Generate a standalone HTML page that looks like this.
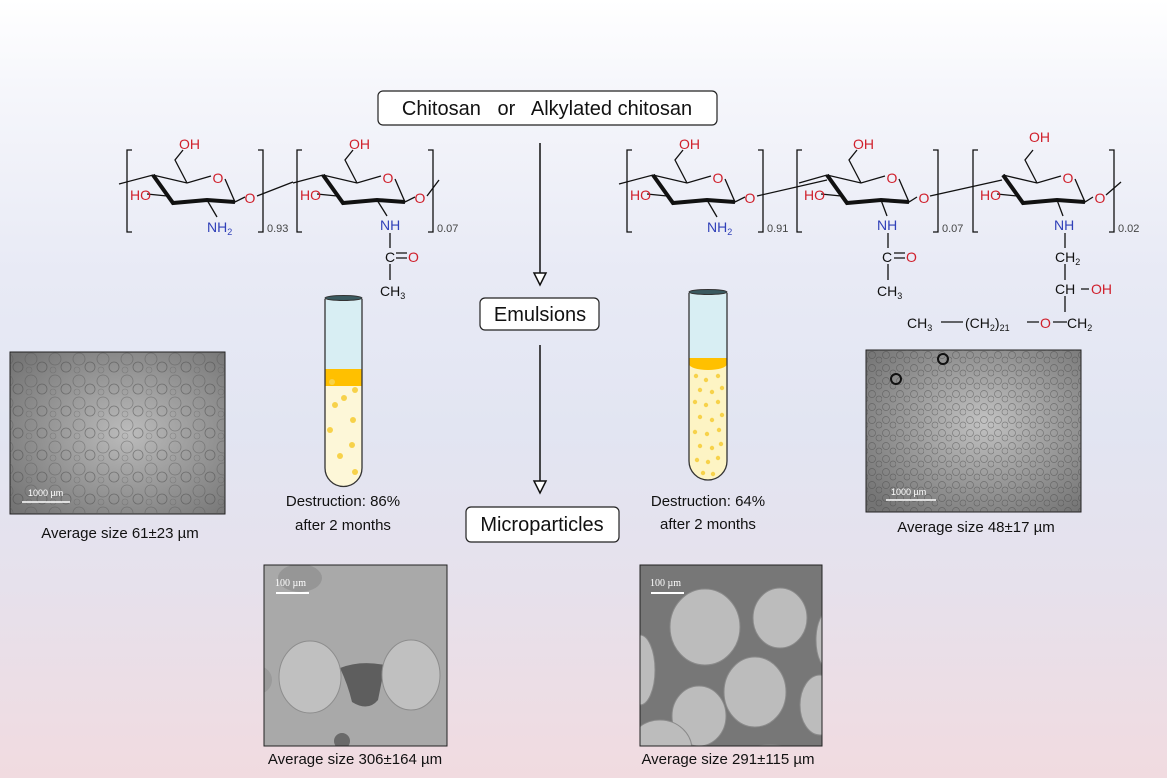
<!DOCTYPE html>
<html><head><meta charset="utf-8"><style>
html,body{margin:0;padding:0}
body{width:1167px;height:778px;overflow:hidden;background:linear-gradient(#ffffff 0%,#f5f6fb 12%,#e8eaf5 35%,#e2e5f2 55%,#e6e1ec 75%,#f1dbe0 100%);font-family:"Liberation Sans",sans-serif}
svg{position:absolute;left:0;top:0}
</style></head><body>
<svg width="1167" height="778" viewBox="0 0 1167 778" font-family="Liberation Sans, sans-serif">
<defs>
<pattern id="bub" width="24" height="22" patternUnits="userSpaceOnUse">
<circle cx="7" cy="7" r="6" fill="none" stroke="#555" stroke-width="0.8" opacity="0.5"/>
<circle cx="18" cy="15" r="5" fill="none" stroke="#444" stroke-width="0.8" opacity="0.5"/>
<circle cx="5" cy="18" r="3" fill="none" stroke="#555" stroke-width="0.6" opacity="0.4"/>
</pattern>
<pattern id="bub2" width="14" height="13" patternUnits="userSpaceOnUse">
<circle cx="4" cy="4" r="3.5" fill="none" stroke="#444" stroke-width="0.7" opacity="0.5"/>
<circle cx="11" cy="9" r="3" fill="none" stroke="#444" stroke-width="0.7" opacity="0.5"/>
</pattern>
<radialGradient id="mg" cx="0.55" cy="0.5" r="0.7"><stop offset="0" stop-color="#bcbcbc"/><stop offset="1" stop-color="#747474"/></radialGradient>
<radialGradient id="mg2" cx="0.55" cy="0.45" r="0.7"><stop offset="0" stop-color="#c2c2c2"/><stop offset="1" stop-color="#747474"/></radialGradient>
<clipPath id="sem2"><rect x="640" y="565" width="182" height="181"/></clipPath>
<clipPath id="sem1"><rect x="264" y="565" width="183" height="181"/></clipPath>
</defs>

<!-- boxes & arrows -->
<rect x="378" y="91" width="339" height="34" rx="5" fill="#fff" stroke="#222" stroke-width="1.2"/>
<text x="547" y="115" font-size="20" text-anchor="middle" fill="#111" xml:space="preserve">Chitosan   or   Alkylated chitosan</text>
<line x1="540" y1="143" x2="540" y2="285" stroke="#111" stroke-width="1.5"/>
<path d="M534,273 L546,273 L540,285 Z" fill="#fff" stroke="#111" stroke-width="1.5"/>
<rect x="480" y="298" width="119" height="32" rx="5" fill="#fff" stroke="#222" stroke-width="1.2"/>
<text x="540" y="321" font-size="20" text-anchor="middle" fill="#111">Emulsions</text>
<line x1="540" y1="345" x2="540" y2="493" stroke="#111" stroke-width="1.5"/>
<path d="M534,481 L546,481 L540,493 Z" fill="#fff" stroke="#111" stroke-width="1.5"/>
<rect x="466" y="507" width="153" height="35" rx="5" fill="#fff" stroke="#222" stroke-width="1.2"/>
<text x="542" y="531" font-size="20" text-anchor="middle" fill="#111">Microparticles</text>

<g font-size="14" fill="none" stroke="#111" stroke-width="1.3">
<g transform="translate(127,0)">
<path d="M5,150 H0 V232 H5 M131,150 H136 V232 H131"/>
<path d="M-8,184 L26,175 L60,183 L84,176 M98,179 L108,202 L118,197 M60,183 L48,160 L56,150"/>
<path d="M26,175 L46,203 L80,200 L108,202" stroke-width="4"/>
<path d="M80,200 L90,217 M20,194 L40,196"/>
<g stroke="none"><text x="91" y="183" text-anchor="middle" fill="#d0202c">O</text><text x="3" y="200" fill="#d0202c">HO</text><text x="52" y="149" fill="#d0202c">OH</text><text x="80" y="232" fill="#3040b8">NH<tspan font-size="9" dy="3">2</tspan></text><text x="123" y="203" text-anchor="middle" fill="#d0202c">O</text><text x="140" y="232" font-size="11" fill="#444">0.93</text></g>
<path d="M130,196 L166,182"/>
</g>
<g transform="translate(297,0)">
<path d="M5,150 H0 V232 H5 M131,150 H136 V232 H131"/>
<path d="M-4,183 L26,175 L60,183 L84,176 M98,179 L108,202 L118,197 M60,183 L48,160 L56,150"/>
<path d="M26,175 L46,203 L80,200 L108,202" stroke-width="4"/>
<path d="M80,200 L90,216 M20,194 L40,196 M93,233 V248 M93,264 V280 M99,253 H110 M99,258 H110"/>
<g stroke="none"><text x="91" y="183" text-anchor="middle" fill="#d0202c">O</text><text x="3" y="200" fill="#d0202c">HO</text><text x="52" y="149" fill="#d0202c">OH</text><text x="83" y="230" fill="#3040b8">NH</text><text x="88" y="262" fill="#111">C</text><text x="111" y="262" fill="#d0202c">O</text><text x="83" y="296" fill="#111">CH<tspan font-size="9" dy="3">3</tspan></text><text x="123" y="203" text-anchor="middle" fill="#d0202c">O</text><text x="140" y="232" font-size="11" fill="#444">0.07</text></g>
<path d="M130,196 L142,180"/>
</g>
<g transform="translate(627,0)">
<path d="M5,150 H0 V232 H5 M131,150 H136 V232 H131"/>
<path d="M-8,184 L26,175 L60,183 L84,176 M98,179 L108,202 L118,197 M60,183 L48,160 L56,150"/>
<path d="M26,175 L46,203 L80,200 L108,202" stroke-width="4"/>
<path d="M80,200 L90,217 M20,194 L40,196"/>
<g stroke="none"><text x="91" y="183" text-anchor="middle" fill="#d0202c">O</text><text x="3" y="200" fill="#d0202c">HO</text><text x="52" y="149" fill="#d0202c">OH</text><text x="80" y="232" fill="#3040b8">NH<tspan font-size="9" dy="3">2</tspan></text><text x="123" y="203" text-anchor="middle" fill="#d0202c">O</text><text x="140" y="232" font-size="11" fill="#444">0.91</text></g>
<path d="M130,196 L200,180"/>
</g>
<g transform="translate(797,0)">
<path d="M5,150 H0 V232 H5 M136,150 H141 V232 H136"/>
<path d="M2,183 L30,175 L64,183 L88,176 M102,179 L112,202 L120,197"/>
<path d="M64,183 L52,160 L60,150"/>
<path d="M30,175 L50,203 L84,200 L112,202" stroke-width="4"/>
<path d="M84,200 L90,216 M24,194 L44,196 M91,233 V248 M91,264 V280 M97,253 H108 M97,258 H108"/>
<g stroke="none"><text x="95" y="183" text-anchor="middle" fill="#d0202c">O</text><text x="7" y="200" fill="#d0202c">HO</text><text x="56" y="149" fill="#d0202c">OH</text><text x="80" y="230" fill="#3040b8">NH</text><text x="85" y="262" fill="#111">C</text><text x="109" y="262" fill="#d0202c">O</text><text x="80" y="296" fill="#111">CH<tspan font-size="9" dy="3">3</tspan></text><text x="127" y="203" text-anchor="middle" fill="#d0202c">O</text><text x="145" y="232" font-size="11" fill="#444">0.07</text></g>
<path d="M133,196 L205,180"/>
</g>
<g transform="translate(973,0)">
<path d="M5,150 H0 V232 H5 M136,150 H141 V232 H136"/>
<path d="M30,175 L64,183 L88,176 M102,179 L112,202 L120,197 M64,183 L52,160 L60,150"/>
<path d="M30,175 L50,203 L84,200 L112,202" stroke-width="4"/>
<path d="M84,200 L90,216 M24,194 L44,196 M92,233 V248 M92,264 V280 M92,296 V312 M108,289 H116 M54,322 H66 M80,322 H94 M-32,322 H-10"/>
<g stroke="none"><text x="95" y="183" text-anchor="middle" fill="#d0202c">O</text><text x="7" y="200" fill="#d0202c">HO</text><text x="56" y="142" fill="#d0202c">OH</text><text x="81" y="230" fill="#3040b8">NH</text><text x="82" y="262" fill="#111">CH<tspan font-size="9" dy="3">2</tspan></text><text x="82" y="294" fill="#111">CH</text><text x="118" y="294" fill="#d0202c">OH</text><text x="94" y="328" fill="#111">CH<tspan font-size="9" dy="3">2</tspan></text><text x="67" y="328" fill="#d0202c">O</text><text x="-66" y="328" fill="#111">CH<tspan font-size="9" dy="3">3</tspan></text><text x="-8" y="328" fill="#111">(CH<tspan font-size="9" dy="3">2</tspan><tspan dy="-3">)</tspan><tspan font-size="9" dy="3">21</tspan></text><text x="127" y="203" text-anchor="middle" fill="#d0202c">O</text><text x="145" y="232" font-size="11" fill="#444">0.02</text></g>
<path d="M133,195 L148,182"/>
</g>
</g>

<!-- left micrograph -->
<rect x="10" y="352" width="215" height="162" fill="url(#mg)" stroke="#222"/>
<rect x="10" y="352" width="215" height="162" fill="url(#bub)"/>
<text x="28" y="496" font-size="9" fill="#fff">1000 µm</text>
<line x1="22" y1="502" x2="70" y2="502" stroke="#fff" stroke-width="1.5"/>
<text x="120" y="538" font-size="15" text-anchor="middle" fill="#111">Average size 61±23 µm</text>

<!-- right micrograph -->
<rect x="866" y="350" width="215" height="162" fill="url(#mg2)" stroke="#222"/>
<rect x="866" y="350" width="215" height="162" fill="url(#bub2)"/>
<circle cx="896" cy="379" r="5" fill="none" stroke="#111" stroke-width="2"/>
<circle cx="943" cy="359" r="5" fill="none" stroke="#111" stroke-width="2"/>
<text x="891" y="495" font-size="9" fill="#fff">1000 µm</text>
<line x1="886" y1="500" x2="936" y2="500" stroke="#fff" stroke-width="1.5"/>
<text x="976" y="532" font-size="15" text-anchor="middle" fill="#111">Average size 48±17 µm</text>

<!-- left tube -->
<path d="M325,369 V468 A18.5,18.5 0 0 0 362,468 V369 Z" fill="#fdf7d8"/>
<rect x="325" y="299" width="37" height="70" fill="#d8eef3"/>
<rect x="325" y="369" width="37" height="17" fill="#ffc000"/>
<g fill="#f7d24a"><circle cx="332" cy="382" r="3"/><circle cx="344" cy="398" r="3"/><circle cx="355" cy="390" r="3"/><circle cx="335" cy="405" r="3"/><circle cx="353" cy="420" r="3"/><circle cx="330" cy="430" r="3"/><circle cx="352" cy="445" r="3"/><circle cx="340" cy="456" r="3"/><circle cx="355" cy="472" r="3"/></g>
<path d="M325,299 V468 A18.5,18.5 0 0 0 362,468 V299" fill="none" stroke="#333" stroke-width="1.3"/>
<ellipse cx="343.5" cy="298" rx="18.5" ry="2.5" fill="#3a5a60" stroke="#333"/>
<text x="343" y="506" font-size="15" text-anchor="middle" fill="#111">Destruction: 86%</text>
<text x="343" y="530" font-size="15" text-anchor="middle" fill="#111">after 2 months</text>

<!-- right tube -->
<path d="M689,364 V461 A19,19 0 0 0 727,461 V364 Z" fill="#fdf4c4"/>
<rect x="689" y="293" width="38" height="71" fill="#d8eef3"/>
<ellipse cx="708" cy="364" rx="19" ry="6" fill="#ffc000"/>
<rect x="689" y="358" width="38" height="7" fill="#ffc000"/>
<g fill="#f7d24a">
<circle cx="696" cy="376" r="2.2"/><circle cx="706" cy="380" r="2.2"/><circle cx="718" cy="376" r="2.2"/><circle cx="700" cy="390" r="2.2"/><circle cx="712" cy="392" r="2.2"/><circle cx="722" cy="388" r="2.2"/><circle cx="695" cy="402" r="2.2"/><circle cx="706" cy="405" r="2.2"/><circle cx="718" cy="402" r="2.2"/><circle cx="700" cy="417" r="2.2"/><circle cx="712" cy="420" r="2.2"/><circle cx="722" cy="415" r="2.2"/><circle cx="695" cy="432" r="2.2"/><circle cx="707" cy="434" r="2.2"/><circle cx="719" cy="430" r="2.2"/><circle cx="700" cy="446" r="2.2"/><circle cx="712" cy="448" r="2.2"/><circle cx="721" cy="444" r="2.2"/><circle cx="697" cy="460" r="2.2"/><circle cx="708" cy="462" r="2.2"/><circle cx="718" cy="458" r="2.2"/><circle cx="703" cy="473" r="2.2"/><circle cx="713" cy="474" r="2.2"/>
</g>
<path d="M689,293 V461 A19,19 0 0 0 727,461 V293" fill="none" stroke="#333" stroke-width="1.3"/>
<ellipse cx="708" cy="292" rx="19" ry="2.5" fill="#3a5a60" stroke="#333"/>
<text x="708" y="506" font-size="15" text-anchor="middle" fill="#111">Destruction: 64%</text>
<text x="708" y="529" font-size="15" text-anchor="middle" fill="#111">after 2 months</text>

<!-- left SEM -->
<rect x="264" y="565" width="183" height="181" fill="#a9a9a9"/>
<g clip-path="url(#sem1)">
<ellipse cx="300" cy="578" rx="22" ry="14" fill="#8a8a8a" opacity="0.6"/>
<path d="M340,668 Q360,660 385,665 L378,700 Q368,712 352,702 Q348,685 340,668 Z" fill="#5e5e5e"/>
<circle cx="258" cy="680" r="14" fill="#9a9a9a"/>
<ellipse cx="310" cy="677" rx="31" ry="36" fill="#c0c0c0" stroke="#8d8d8d"/>
<ellipse cx="411" cy="675" rx="29" ry="35" fill="#c0c0c0" stroke="#8d8d8d"/>
<circle cx="342" cy="741" r="8" fill="#6a6a6a"/>
</g>
<rect x="264" y="565" width="183" height="181" fill="none" stroke="#222"/>
<text x="275" y="586" font-size="10" font-family="Liberation Serif, serif" fill="#fff">100 µm</text>
<line x1="276" y1="593" x2="309" y2="593" stroke="#fff" stroke-width="2"/>
<text x="355" y="764" font-size="15" text-anchor="middle" fill="#111">Average size 306±164 µm</text>

<!-- right SEM -->
<rect x="640" y="565" width="182" height="181" fill="#777"/>
<g fill="#bcbcbc" stroke="#8a8a8a" clip-path="url(#sem2)">
<ellipse cx="705" cy="627" rx="35" ry="38"/><ellipse cx="780" cy="618" rx="27" ry="30"/><ellipse cx="640" cy="670" rx="15" ry="35"/><ellipse cx="755" cy="692" rx="31" ry="35"/><ellipse cx="699" cy="716" rx="27" ry="30"/><ellipse cx="830" cy="640" rx="14" ry="30"/><ellipse cx="660" cy="750" rx="32" ry="30"/><ellipse cx="820" cy="705" rx="20" ry="30"/><ellipse cx="770" cy="770" rx="40" ry="25"/>
</g>
<rect x="640" y="565" width="182" height="181" fill="none" stroke="#222"/>
<text x="650" y="586" font-size="10" font-family="Liberation Serif, serif" fill="#fff">100 µm</text>
<line x1="651" y1="593" x2="684" y2="593" stroke="#fff" stroke-width="2"/>
<text x="728" y="764" font-size="15" text-anchor="middle" fill="#111">Average size 291±115 µm</text>
</svg>
</body></html>
